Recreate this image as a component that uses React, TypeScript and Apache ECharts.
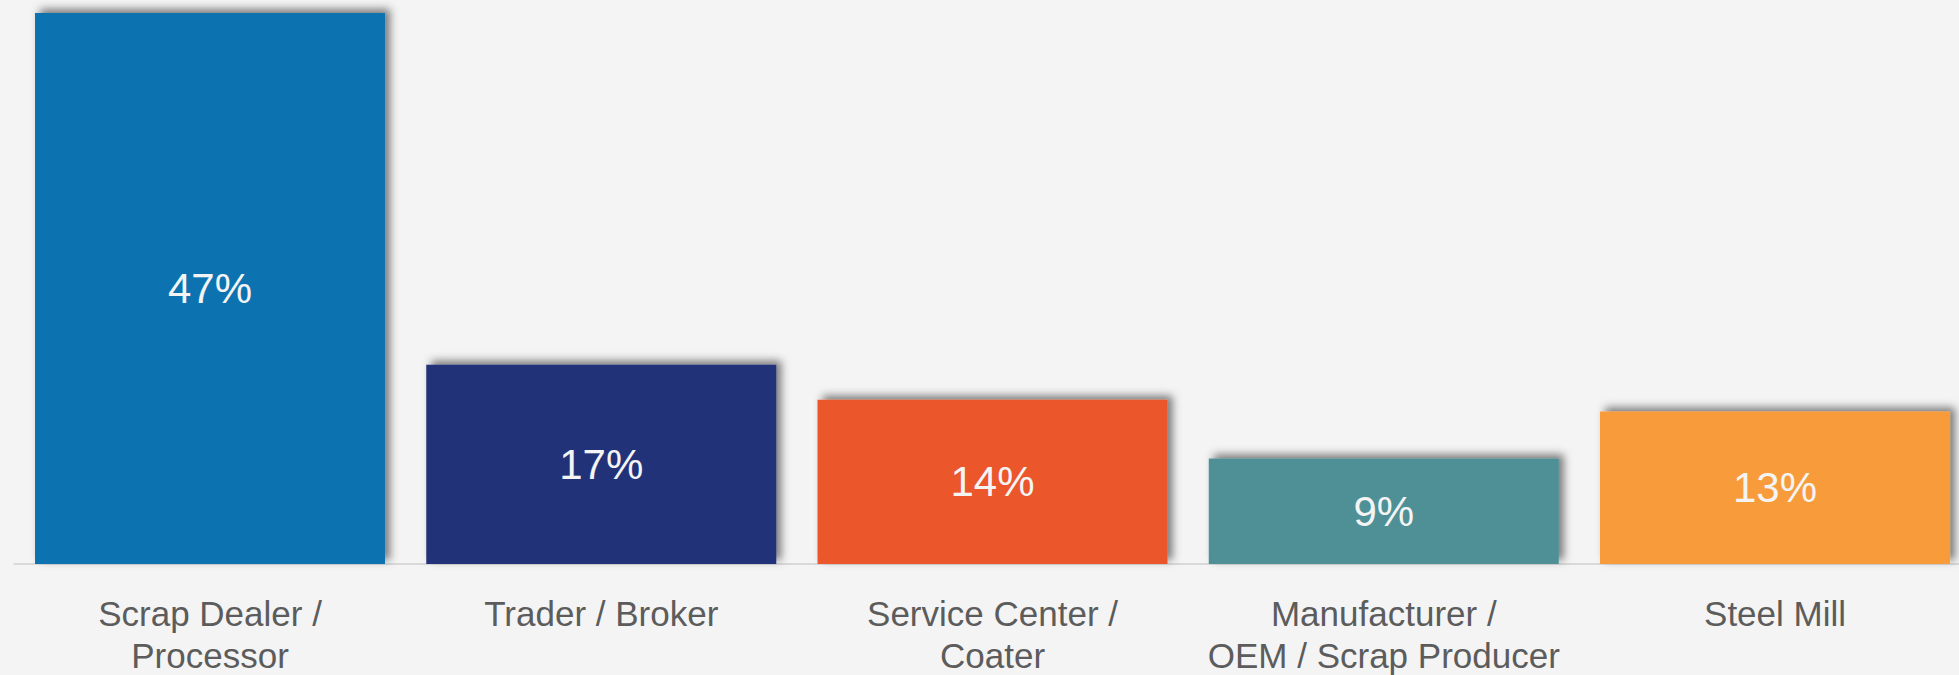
import React, { useEffect, useRef } from "react";
import * as echarts from "echarts";

const categories = [
  "Scrap Dealer /\nProcessor",
  "Trader / Broker",
  "Service Center /\nCoater",
  "Manufacturer /\nOEM / Scrap Producer",
  "Steel Mill",
];
const values = [47, 17, 14, 9, 13];
const colors = ["#1072b0", "#203378", "#eb5629", "#4f9097", "#f89c3a"];

export default function App() {
  const ref = useRef<HTMLDivElement>(null);
  useEffect(() => {
    document.body.style.margin = "0";
    const chart = echarts.init(ref.current!, undefined, { renderer: "svg" });
    chart.setOption({
      animation: false,
      backgroundColor: "#f4f4f4",
      grid: {
        left: 14.4,
        width: 1956.25,
        top: 13,
        bottom: 111,
        containLabel: false,
        outerBoundsMode: "none",
      },
      xAxis: {
        type: "category",
        data: categories,
        axisLine: { show: true, lineStyle: { color: "#d9d9d9", width: 2 } },
        axisTick: { show: false },
        axisLabel: {
          interval: 0,
          color: "#5c5c5c",
          fontFamily: "Liberation Sans, Arial, sans-serif",
          fontSize: 35,
          lineHeight: 42,
          margin: 28,
        },
      },
      yAxis: {
        type: "value",
        min: 0,
        max: 47,
        show: false,
        splitLine: { show: false },
      },
      series: [
        {
          type: "bar",
          barCategoryGap: "10.54%",
          data: values.map((v, i) => ({
            value: v,
            itemStyle: { color: colors[i] },
          })),
          itemStyle: {
            shadowColor: "rgba(0,0,0,0.5)",
            shadowBlur: 8,
            shadowOffsetX: 5,
            shadowOffsetY: -4,
          },
          label: {
            show: true,
            position: "inside",
            formatter: "{c}%",
            color: "#f4f4f4",
            fontFamily: "Liberation Sans, Arial, sans-serif",
            fontSize: 42,
          },
        },
      ],
    });
    return () => chart.dispose();
  }, []);
  return <div ref={ref} style={{ width: 1959, height: 675 }} />;
}
